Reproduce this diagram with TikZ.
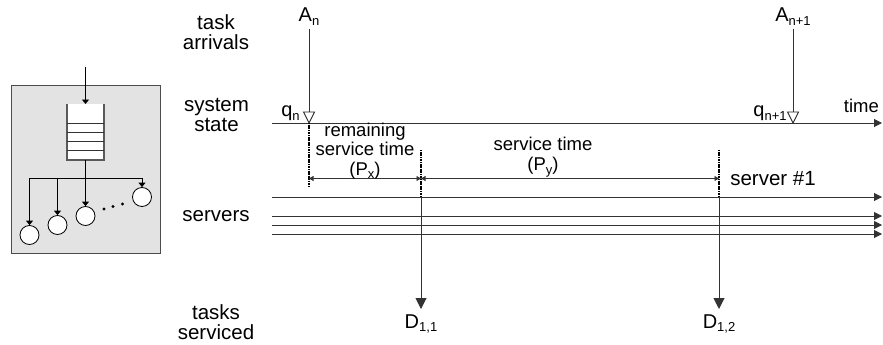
\documentclass[tikz,border=0pt]{standalone}
\usepackage{fontspec}
\setmainfont{Liberation Sans}
\usetikzlibrary{arrows.meta}
\newcommand{\sbs}[1]{\raisebox{-3.5pt}{\fontsize{13}{13}\selectfont #1}}
\tikzset{
 lbl/.style={inner sep=0pt,align=center,font=\fontsize{20.5}{20.5}\selectfont},
 mid/.style={inner sep=0pt,align=center,font=\fontsize{18.5}{20}\selectfont},
 sym/.style={inner sep=0pt,anchor=base,font=\fontsize{20}{20}\selectfont},
 line/.style={line width=1pt,black!80},
 arr/.style={line,-{Triangle[length=8pt,width=8pt]}},
 big/.style={line,-{Triangle[length=11pt,width=11pt]}},
 small/.style={line width=0.9pt,black,-{Triangle[length=4.5pt,width=7pt]}},
 dim/.style={line width=0.8pt,black!80,{Triangle[length=4.5pt,width=5pt]}-{Triangle[length=4.5pt,width=5pt]}},
 dotline/.style={line width=1.2pt,black,dash pattern=on 1.2pt off 0.5pt},
 srv/.style={circle,draw=black,line width=0.8pt,fill=white,minimum size=19pt,inner sep=0pt},
 tri/.style={line width=0.9pt,black!85,fill=white},
 dot/.style={circle,fill=black,inner sep=0pt,minimum size=3.2pt},
}
\begin{document}
\begin{tikzpicture}[x=1pt,y=-1pt]
\useasboundingbox (0,0) rectangle (883,345);
% left panel
\node[draw=black!70,line width=1pt,fill=black!11,minimum width=149pt,minimum height=168pt,inner sep=0pt] (panel) at (85.5,169) {};
\fill[white] (67,104) rectangle (104,160);
\coordinate (qtop) at (85.5,104);
\coordinate (qbot) at (85.5,160);
\coordinate (in) at (85.5,67);
\coordinate (bus) at (85.5,178);
\draw[line width=1.1pt,black!65] (67,104) -- (67,160) -- (104,160) -- (104,104);
\foreach \y in {123,132,141,150}{\draw[line,line width=0.9pt] (67,\y) -- (104,\y);}
\node[srv] (s1) at (29.5,235) {};
\node[srv] (s2) at (57.5,225) {};
\node[srv] (s3) at (85.5,216) {};
\node[srv] (s4) at (142,197) {};
\node[dot] (d1) at (104,209) {};
\node[dot] (d2) at (113,206.5) {};
\node[dot] (d3) at (122.5,204) {};
\draw[small] (in) -- (qtop);
\draw[small] (qbot) -- (s3.north);
\draw[small] (bus) -| (s1.north);
\draw[small] (bus -| s2) -- (s2.north);
\draw[small] (bus) -| (s4.north);
% row labels
\node[lbl] (l1) at (216,32) {task\\arrivals};
\node[lbl] (l2) at (216.5,115) {system\\state};
\node[lbl] (l3) at (216,216) {servers};
\node[lbl] (l4) at (216,322) {tasks\\serviced};
% timeline
\coordinate (t0) at (272,123);
\coordinate (t1) at (882,123);
\draw[arr] (t0) -- (t1);
\node[mid,anchor=base east] (time) at (879,112.7) {time};
\foreach \y/\n in {197/a,216/b,225/c,234/d}{
  \coordinate (s\n0) at (272,\y);
  \coordinate (s\n1) at (882,\y);
  \draw[arr] (s\n0) -- (s\n1);
}
% arrivals
\coordinate (An) at (309,123);
\coordinate (Am) at (793,123);
\node[sym] (A1) at (309,21.7) {A\sbs{n}};
\node[sym] (A2) at (793,21.7) {A\sbs{n+1}};
\draw[line] (A1.south |- 0,29) -- (309,112);
\draw[line] (A2.south |- 0,29) -- (793,112);
\draw[tri] (303.5,112) -- (314.5,112) -- (An) -- cycle;
\draw[tri] (787.5,112) -- (798.5,112) -- (Am) -- cycle;
\node[sym] (q1) at (290.5,116.5) {q\sbs{n}};
\node[sym] (q2) at (770,116.5) {q\sbs{n+1}};
% service marks
\coordinate (p0t) at (309,123);
\coordinate (p0b) at (309,187);
\coordinate (p1t) at (421,150);
\coordinate (p1m) at (421,197);
\coordinate (p2t) at (719,150);
\coordinate (p2m) at (719,197);
\draw[dotline] (p0t) -- (p0b);
\draw[dotline] (p1t) -- (p1m);
\draw[dotline] (p2t) -- (p2m);
\node[sym] (D1) at (421,328) {D\sbs{1,1}};
\node[sym] (D2) at (719,328) {D\sbs{1,2}};
\draw[big] (p1m) -- (421,309);
\draw[big] (p2m) -- (719,309);
\draw[dim] (309,178.5) -- (421,178.5);
\draw[dim] (421,178.5) -- (719,178.5);
\node[mid] (rem) at (365,151) {remaining\\[-0.5pt]service time\\[-0.5pt](P\sbs{x})};
\node[mid] (svc) at (543,157) {service time\\(P\sbs{y})};
\node[lbl,anchor=base] (srv1) at (773,185) {server \#1};
\end{tikzpicture}
\end{document}
